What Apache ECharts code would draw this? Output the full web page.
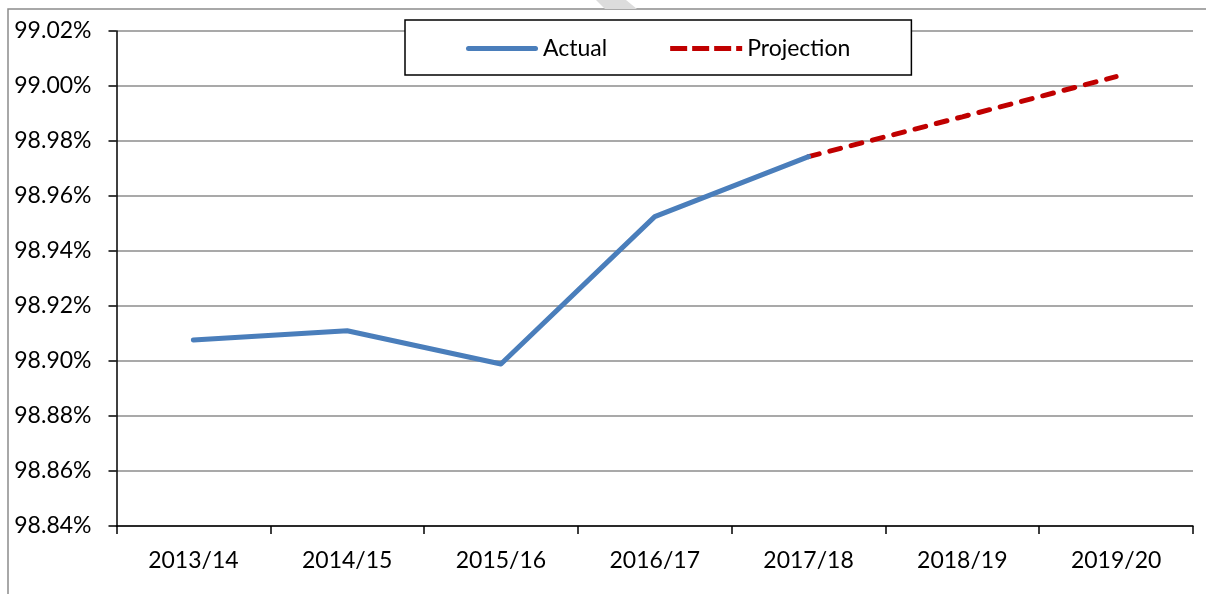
<!DOCTYPE html>
<html>
<head>
<meta charset="utf-8">
<script src="https://cdn.jsdelivr.net/npm/echarts@6/dist/echarts.min.js"></script>
<style>
  html, body { margin: 0; padding: 0; background: #fff; }
  #chart { width: 1206px; height: 594px; }
</style>
</head>
<body>
<div id="chart"></div>
<script>
var years = ['2013/14', '2014/15', '2015/16', '2016/17', '2017/18', '2018/19', '2019/20'];
var actual = [98.9076, 98.9110, 98.8989, 98.9525, 98.9743, null, null];
var projection = [null, null, null, null, 98.9743, 98.9888, 99.0034];
var yMin = 98.84, yMax = 99.02, yStep = 0.02;

var myChart = echarts.init(document.getElementById('chart'));
var font = 'Lato, "Open Sans", sans-serif';
var blue = '#4a7ebb', red = '#c00000';

myChart.setOption({
    animation: false,
    backgroundColor: '#fff',
    textStyle: { fontFamily: font },
    grid: {
        left: 116.5,
        right: 13,
        top: 31,
        bottom: 68,
        outerBoundsMode: 'none'
    },
    // frame round the chart and a bit of the watermark at the top
    graphic: [
        {
            type: 'rect',
            shape: { x: 8, y: 9, width: 1400, height: 800 },
            style: { fill: 'none', stroke: '#8c8c8c', lineWidth: 1.5 },
            silent: true
        },
        {
            type: 'polygon',
            shape: { points: [[596, 0], [626, 0], [637, 9], [605, 9]] },
            style: { fill: '#dcdcdc' },
            silent: true
        }
    ],
    legend: {
        left: 405,
        top: 20,
        padding: [17, 61, 15, 61],
        itemGap: 63,
        itemWidth: 72,
        itemHeight: 5,
        backgroundColor: '#fff',
        borderColor: '#000',
        borderWidth: 1.5,
        textStyle: { fontSize: 23, lineHeight: 23, color: '#000', fontFamily: font },
        data: [
            {
                name: 'Actual',
                icon: 'path://M2.5,0H69.5A2.5,2.5,0,0,1,69.5,5H2.5A2.5,2.5,0,0,1,2.5,0Z',
                itemStyle: { color: blue }
            },
            {
                name: 'Projection',
                icon: 'path://M0,0h17v5h-17z M22,0h17v5h-17z M44,0h17v5h-17z M66,0h6v5h-6z',
                itemStyle: { color: red }
            }
        ]
    },
    xAxis: {
        type: 'category',
        data: years,
        boundaryGap: true,
        axisLine: { lineStyle: { color: '#000', width: 1.5 } },
        axisTick: { show: true, length: 8, lineStyle: { color: '#000', width: 1.5 } },
        axisLabel: { color: '#000', fontSize: 23, margin: 23, fontFamily: font },
        splitLine: { show: false }
    },
    yAxis: {
        type: 'value',
        min: yMin,
        max: yMax,
        interval: yStep,
        axisLine: { show: true, lineStyle: { color: '#000', width: 1.5 } },
        axisTick: { show: true, length: 8, lineStyle: { color: '#000', width: 1.5 } },
        axisLabel: {
            color: '#000',
            fontSize: 23,
            margin: 25,
            fontFamily: font,
            formatter: function (v) { return v.toFixed(2) + '%'; }
        },
        splitLine: { show: true, lineStyle: { color: '#8c8c8c', width: 1.5 } }
    },
    series: [
        {
            name: 'Actual',
            type: 'line',
            data: actual,
            symbol: 'none',
            z: 3,
            lineStyle: { color: blue, width: 5, cap: 'round', join: 'round' },
            itemStyle: { color: blue }
        },
        {
            name: 'Projection',
            type: 'line',
            data: projection,
            symbol: 'none',
            z: 2,
            lineStyle: { color: red, width: 5, type: [11, 11], cap: 'round' },
            itemStyle: { color: red }
        }
    ]
});

window.addEventListener('resize', function () {
    myChart.resize();
});
</script>
</body>
</html>
